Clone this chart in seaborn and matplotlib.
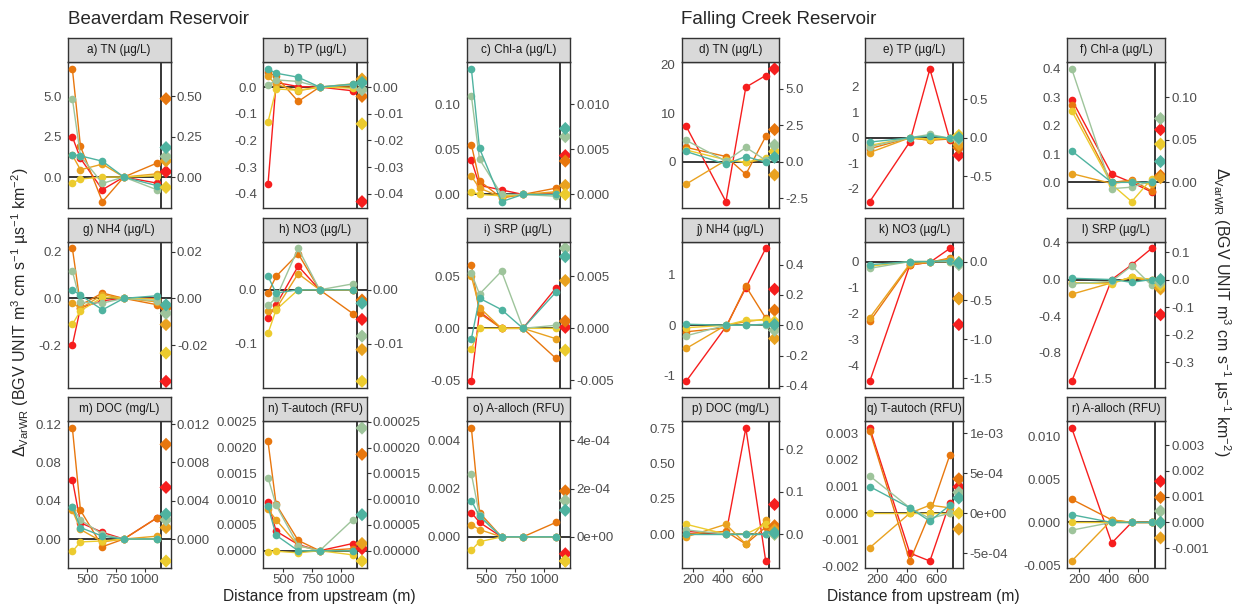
import numpy as np
import pandas as pd
import matplotlib
matplotlib.use("Agg")
import matplotlib.pyplot as plt
import seaborn as sns

sns.set_theme(style="white")
plt.rcParams['font.family'] = ['Liberation Sans', 'DejaVu Sans']
plt.rcParams['mathtext.fontset'] = 'custom'
plt.rcParams['mathtext.rm'] = 'Liberation Sans'
plt.rcParams['mathtext.it'] = 'Liberation Sans:italic'

# series order: drawn first -> last
SERIES = ["run 1", "run 2", "run 3", "run 4", "run 5", "run 6"]
PALETTE = ["#F61E1E", "#E8770E", "#E9A220", "#ECCB2E", "#9EC49B", "#4FB3A0"]

BVR_DIST = [370, 440, 630, 815, 1100]
BVR_VLINE = 1135
BVR_WR_X = 1180
FCR_DIST = [150, 420, 555, 690]
FCR_VLINE = 710
FCR_WR_X = 750

# ---- Beaverdam ----
a_pts = [[2.48, 1.15, -0.78, 0, -0.37],
         [6.68, 1.89, -1.52, 0, 0.86],
         [1.35, 0.45, 0.80, 0, 0.20],
         [-0.37, -0.12, 0.0, 0, 0.08],
         [4.84, 1.31, -0.39, 0, -0.78],
         [1.39, 1.31, 0.98, 0, -0.53]]
a_wr = [0.033, 0.484, 0.10, -0.064, 0.127, 0.182]

b_pts = [[-0.365, 0.017, 0.002, 0, -0.014],
         [0.055, 0.040, -0.054, 0, 0.005],
         [0.040, 0.010, -0.014, 0, 0.012],
         [-0.131, -0.007, -0.012, 0, -0.004],
         [0.006, 0.027, 0.021, 0, 0.009],
         [0.068, 0.052, 0.037, 0, 0.011]]
b_wr = [-0.043, -0.0035, 0.003, -0.0138, -0.001, 0.0017]

c_pts = [[0.038, 0.010, 0.005, 0, 0.0015],
         [0.055, 0.015, -0.004, 0, 0.007],
         [0.020, 0.007, -0.003, 0, 0.003],
         [0.003, 0.0, -0.0015, 0, 0.0],
         [0.109, 0.039, 0.0, 0, -0.002],
         [0.139, 0.051, -0.008, 0, 0.0]]
c_wr = [0.0043, 0.0037, 0.001, 0.0, 0.0064, 0.0073]

g_pts = [[-0.20, -0.04, -0.01, 0, 0.0],
         [0.214, -0.029, 0.023, 0, -0.027],
         [-0.02, -0.043, 0.015, 0, -0.015],
         [-0.111, -0.053, 0.004, 0, -0.003],
         [0.117, -0.017, -0.020, 0, -0.010],
         [0.036, 0.014, -0.049, 0, 0.011]]
g_wr = [-0.0355, -0.004, -0.0112, -0.0234, -0.0064, -0.0028]

h_pts = [[-0.052, -0.028, 0.044, 0, 0.0],
         [-0.006, 0.025, 0.067, 0, -0.044],
         [-0.040, -0.035, 0.030, 0, 0.0],
         [-0.081, -0.037, 0.0, 0, 0.0],
         [-0.029, -0.015, 0.077, 0, 0.011],
         [0.025, -0.006, 0.0, 0, 0.0]]
h_wr = [-0.0055, -0.0019, -0.0111, -0.017, -0.0086, -0.0025]

i_pts = [[-0.051, 0.016, 0.0, 0, 0.039],
         [0.061, 0.0145, 0.0, 0, -0.029],
         [0.050, 0.020, 0.0, 0, -0.010],
         [-0.020, 0.0, 0.0, 0, 0.0],
         [0.053, 0.033, 0.055, 0, 0.003],
         [-0.010, 0.029, 0.018, 0, 0.035]]
i_wr = [0.0001, 0.0007, 0.0046, -0.0021, 0.0077, 0.0069]

m_pts = [[0.062, 0.017, 0.007, 0, 0.022],
         [0.116, 0.030, -0.008, 0, 0.022],
         [0.030, 0.010, -0.003, 0, 0.003],
         [-0.013, -0.003, -0.002, 0, 0.0],
         [0.033, 0.020, 0.005, 0, 0.0],
         [0.034, 0.012, 0.003, 0, 0.0]]
m_wr = [0.0054, 0.0099, 0.0012, -0.0023, 0.002, 0.0026]

n_pts = [[0.00094, 0.00038, 0.00012, 0, 0.00014],
         [0.00212, 0.00090, 0.00020, 0, 0.00004],
         [0.00080, 0.00060, 0.00010, 0, 0.0],
         [-0.00002, -0.00001, -0.00004, 0, -0.00008],
         [0.00142, 0.00088, 0.00010, 0, 0.00060],
         [0.00086, 0.00030, 0.0, 0, 0.0]]
n_wr = [0.000004, 0.000187, 0.000014, -0.00002, 0.000238, 0.00007]

o_pts = [[0.0010, 0.0006, 0.0, 0, 0.0],
         [0.0045, 0.0010, 0.0, 0, 0.0006],
         [0.0005, 0.0003, 0.0, 0, 0.0],
         [-0.00055, -0.0002, 0.0, 0, 0.0],
         [0.0026, 0.0009, 0.0, 0, 0.0],
         [0.0015, 0.00085, 0.0, 0, 0.0]]
o_wr = [-0.00007, 0.00019, -0.0001, -0.0001, 0.00015, 0.00011]

# ---- Falling Creek ----
d_pts = [[7.3, -8.2, 15.3, 17.7],
         [2.95, 1.07, -2.6, 5.2],
         [-4.6, 0.3, -0.1, 0.5],
         [2.4, 0.4, -0.1, 0.7],
         [4.4, 0.1, 2.95, 0.3],
         [2.1, -0.5, 1.07, -0.1]]
d_wr = [6.35, 2.2, -0.9, 0.7, 1.14, 0.3]

e_pts = [[-2.5, -0.16, 2.69, -0.1],
         [-0.43, 0.0, -0.10, -0.05],
         [-0.58, 0.0, -0.10, 0.0],
         [-0.30, 0.0, -0.05, 0.0],
         [-0.35, 0.0, 0.13, -0.02],
         [-0.17, 0.0, 0.07, -0.02]]
e_wr = [-0.23, -0.13, -0.09, 0.03, -0.02, 0.0]

f_pts = [[0.292, 0.029, 0.0, -0.034],
         [0.272, 0.0, 0.008, -0.030],
         [0.031, -0.004, 0.005, -0.007],
         [0.252, -0.007, -0.068, 0.013],
         [0.400, -0.022, -0.017, 0.005],
         [0.111, 0.0, 0.0, 0.0]]
f_wr = [0.062, 0.008, 0.0055, 0.045, 0.075, 0.0245]

j_pts = [[-1.11, -0.03, 0.74, 1.52],
         [-0.13, -0.05, 0.77, 0.14],
         [-0.46, 0.0, 0.07, 0.12],
         [-0.05, 0.0, 0.10, 0.10],
         [-0.21, 0.0, 0.0, 0.01],
         [0.02, 0.0, 0.0, 0.02]]
j_wr = [0.237, 0.099, -0.088, 0.022, -0.033, 0.004]

k_pts = [[-4.62, -0.13, -0.03, 0.51],
         [-2.31, -0.13, -0.03, 0.14],
         [-2.17, -0.09, -0.02, 0.10],
         [-0.18, 0.0, 0.0, 0.0],
         [-0.26, 0.0, 0.0, 0.0],
         [-0.12, 0.0, 0.0, 0.04]]
k_wr = [-0.81, -0.47, -0.48, -0.01, -0.04, -0.017]

l_pts = [[-1.11, 0.0, 0.16, 0.34],
         [-0.04, -0.03, 0.02, 0.0],
         [-0.16, -0.036, 0.025, -0.02],
         [-0.036, -0.047, 0.030, 0.0],
         [-0.047, -0.02, 0.15, -0.065],
         [0.014, 0.0, -0.03, 0.0]]
l_wr = [-0.128, -0.03, -0.034, -0.02, -0.01, 0.0]

p_pts = [[0.02, 0.0, 0.75, -0.19],
         [0.0, 0.02, -0.07, 0.05],
         [-0.02, 0.07, -0.07, 0.10],
         [0.07, 0.0, 0.0, 0.07],
         [0.03, 0.0, 0.0, 0.0],
         [0.0, 0.0, 0.0, 0.0]]
p_wr = [0.07, 0.02, 0.01, 0.0, 0.0, 0.003]

q_pts = [[0.0032, -0.0015, -0.0018, 0.0004],
         [0.0031, -0.0018, 0.0, 0.0022],
         [-0.0013, 0.0, 0.0003, 0.0002],
         [0.0, 0.0, 0.0, 0.0],
         [0.0014, 0.0002, -0.0002, 0.0],
         [0.0010, 0.0002, -0.0003, 0.0003]]
q_wr = [0.00033, 0.00043, -0.0002, 0.0, 0.00026, 0.00019]

r_pts = [[0.011, -0.0024, 0.0, 0.0],
         [0.0027, 0.0003, 0.0, 0.0],
         [-0.0045, 0.0003, 0.0, 0.0],
         [0.0, 0.0, 0.0, 0.0],
         [-0.0009, 0.0, 0.0, 0.0],
         [0.0009, 0.0, 0.0, 0.0]]
r_wr = [0.0016, 0.00097, -0.0006, 0.0, 0.00044, 0.0]

# title, reservoir, points, whole-reservoir values, left step/format, right step/format
PANELS = [
    ("a) TN (µg/L)", "BVR", a_pts, a_wr, 2.5, "{:.1f}", 0.25, "{:.2f}"),
    ("b) TP (µg/L)", "BVR", b_pts, b_wr, 0.1, "{:.1f}", 0.01, "{:.2f}"),
    ("c) Chl-a (µg/L)", "BVR", c_pts, c_wr, 0.05, "{:.2f}", 0.005, "{:.3f}"),
    ("d) TN (µg/L)", "FCR", d_pts, d_wr, 10, "{:.0f}", 2.5, "{:.1f}"),
    ("e) TP (µg/L)", "FCR", e_pts, e_wr, 1, "{:.0f}", 0.5, "{:.1f}"),
    ("f) Chl-a (µg/L)", "FCR", f_pts, f_wr, 0.1, "{:.1f}", 0.05, "{:.2f}"),
    ("g) NH4 (µg/L)", "BVR", g_pts, g_wr, 0.2, "{:.1f}", 0.02, "{:.2f}"),
    ("h) NO3 (µg/L)", "BVR", h_pts, h_wr, 0.1, "{:.1f}", 0.01, "{:.2f}"),
    ("i) SRP (µg/L)", "BVR", i_pts, i_wr, 0.05, "{:.2f}", 0.005, "{:.3f}"),
    ("j) NH4 (µg/L)", "FCR", j_pts, j_wr, 1, "{:.0f}", 0.2, "{:.1f}"),
    ("k) NO3 (µg/L)", "FCR", k_pts, k_wr, 1, "{:.0f}", 0.5, "{:.1f}"),
    ("l) SRP (µg/L)", "FCR", l_pts, l_wr, 0.4, "{:.1f}", 0.1, "{:.1f}"),
    ("m) DOC (mg/L)", "BVR", m_pts, m_wr, 0.04, "{:.2f}", 0.004, "{:.3f}"),
    ("n) T-autoch (RFU)", "BVR", n_pts, n_wr, 0.0005, "{:.4f}", 0.00005, "{:.5f}"),
    ("o) A-alloch (RFU)", "BVR", o_pts, o_wr, 0.002, "{:.3f}", 0.0002, "{:.0e}"),
    ("p) DOC (mg/L)", "FCR", p_pts, p_wr, 0.25, "{:.2f}", 0.1, "{:.1f}"),
    ("q) T-autoch (RFU)", "FCR", q_pts, q_wr, 0.001, "{:.3f}", 0.0005, "{:.0e}"),
    ("r) A-alloch (RFU)", "FCR", r_pts, r_wr, 0.005, "{:.3f}", 0.001, "{:.3f}"),
]

W, H = 1240, 607
COL_X = [(67.7, 170.7), (263.3, 366.7), (466.7, 570), (681.7, 779), (865.3, 963.3), (1067.3, 1165)]
ROW_Y = [(38.3, 208.3), (217.7, 388), (397.4, 567.7)]
STRIP_H = 24
TICK_COL = "#4D4D4D"
EDGE = "#333333"


def ticks_in(lo, hi, step, fmt):
    start = np.ceil(lo / step - 1e-6) * step
    vals = np.arange(start, hi + step * 1e-6, step)
    labs = []
    for v in vals:
        if abs(v) < step * 1e-6:
            v = 0.0
        labs.append(fmt.format(v))
    return vals, labs


fig = plt.figure(figsize=(W / 100, H / 100), dpi=100)

for idx, (title, res, pts, wr, lstep, lfmt, rstep, rfmt) in enumerate(PANELS):
    row, col = divmod(idx, 6)
    x0, x1 = COL_X[col]
    top, bot = ROW_Y[row]
    ax = fig.add_axes([x0 / W, 1 - bot / H, (x1 - x0) / W, (bot - top - STRIP_H) / H])
    st = fig.add_axes([x0 / W, 1 - (top + STRIP_H) / H, (x1 - x0) / W, STRIP_H / H])

    if res == "BVR":
        dist, vx, wx, k, xt = BVR_DIST, BVR_VLINE, BVR_WR_X, 10, [500, 750, 1000]
    else:
        dist, vx, wx, k, xt = FCR_DIST, FCR_VLINE, FCR_WR_X, 3, [200, 400, 600]

    df = pd.DataFrame([(s, d, v) for s, vals in zip(SERIES, pts) for d, v in zip(dist, vals)],
                      columns=["series", "dist", "delta"])
    wr_df = pd.DataFrame({"series": SERIES, "dist": wx, "delta": np.array(wr) * k})

    sns.lineplot(data=df, x="dist", y="delta", hue="series", hue_order=SERIES, palette=PALETTE,
                 marker="o", markersize=5.5, markeredgewidth=0, linewidth=1, sort=False,
                 estimator=None, legend=False, ax=ax, zorder=3)
    sns.scatterplot(data=wr_df, x="dist", y="delta", hue="series", hue_order=SERIES, palette=PALETTE,
                    marker="D", s=45, edgecolor="none", legend=False, ax=ax, zorder=3)
    ax.margins(x=0.05, y=0.05)
    ax.autoscale_view()
    ylo, yhi = ax.get_ylim()
    xlo, xhi = ax.get_xlim()
    ax.axhline(0, color="black", lw=1.1, zorder=2)
    ax.axvline(vx, color="black", lw=1.1, zorder=2)

    yt, yl = ticks_in(ylo, yhi, lstep, lfmt)
    ax.set_yticks(yt, yl)
    ax.set_ylim(ylo, yhi)
    ax.set_xlim(xlo, xhi)
    sec = ax.secondary_yaxis("right", functions=(lambda y, k=k: y / k, lambda y, k=k: y * k))
    rt, rl = ticks_in(ylo / k, yhi / k, rstep, rfmt)
    sec.set_yticks(rt, rl)
    for a in (ax, sec):
        a.tick_params(axis="y", length=3, width=0.8, color=EDGE, labelcolor=TICK_COL,
                      labelsize=9.5, pad=1.5)
    sec.spines["right"].set_visible(False)
    if row == 2:
        ax.set_xticks(xt, [str(t) for t in xt])
        ax.tick_params(axis="x", bottom=True, length=3, width=0.8, color=EDGE,
                       labelcolor=TICK_COL, labelsize=9.5, pad=1.5)
    else:
        ax.set_xticks([])
    ax.set_xlabel("")
    ax.set_ylabel("")
    ax.set_facecolor("white")
    for sp in ax.spines.values():
        sp.set_color(EDGE)
        sp.set_linewidth(1)

    st.set_facecolor("#D9D9D9")
    st.set_xticks([])
    st.set_yticks([])
    for sp in st.spines.values():
        sp.set_color(EDGE)
        sp.set_linewidth(1)
    st.text(0.5, 0.5, title, ha="center", va="center", fontsize=8.5, color="#1A1A1A",
            transform=st.transAxes)

fig.text(68 / W, 1 - 20 / H, "Beaverdam Reservoir", fontsize=13.5, ha="left", va="center")
fig.text(681 / W, 1 - 20 / H, "Falling Creek Reservoir", fontsize=13.5, ha="left", va="center")
for cx in (319, 923):
    fig.text(cx / W, 1 - 597 / H, "Distance from upstream (m)", fontsize=11.2, ha="center", va="center")

ylab = r"$\Delta_{\mathrm{VarWR}}$ (BGV UNIT m$^{3}$ cm s$^{-1}$ µs$^{-1}$ km$^{-2}$)"
fig.text(20 / W, 1 - 312 / H, ylab, fontsize=11.5, rotation=90, ha="center", va="center")
fig.text(1222 / W, 1 - 312 / H, ylab, fontsize=11.5, rotation=270, ha="center", va="center")

fig.savefig("out.png", dpi=100, facecolor="white")
